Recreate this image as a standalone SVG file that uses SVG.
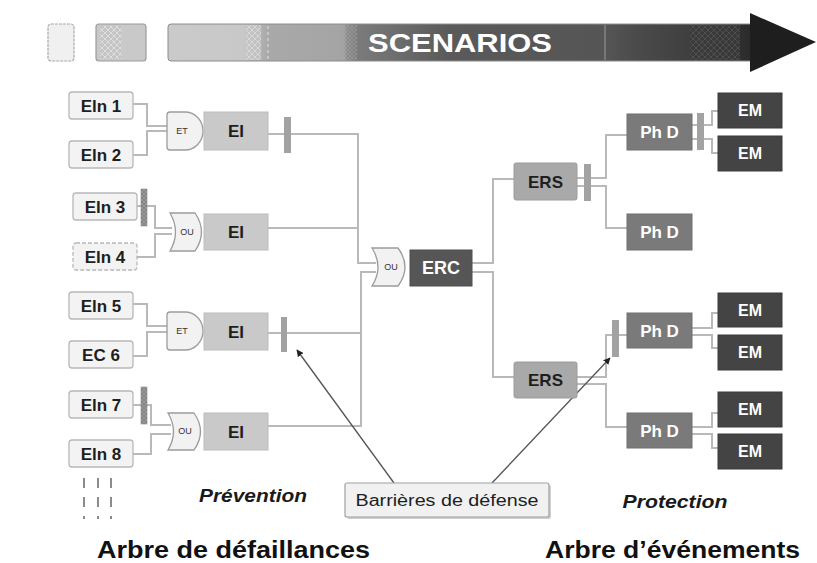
<svg xmlns="http://www.w3.org/2000/svg" width="817" height="563" viewBox="0 0 817 563">
  <defs>
    <style>
      .lb { font-family: "Liberation Sans", Arial, sans-serif; font-weight: bold; font-size: 17px; text-anchor: middle; fill: #1e1e1e; }
      .wt { fill: #ffffff; }
      .small { font-family: "Liberation Sans", Arial, sans-serif; font-size: 9px; text-anchor: middle; fill: #333; }
      .in { fill: #f3f3f3; stroke: #b8b8b8; stroke-width: 1.3; }
      .ei { fill: #c9c9c9; stroke: #bdbdbd; stroke-width: 1; }
      .gate { fill: #f2f2f2; stroke: #9c9c9c; stroke-width: 1.3; }
      .ers { fill: #a9a9a9; stroke: #9c9c9c; stroke-width: 1; }
      .phd { fill: #7a7a7a; stroke: #717171; stroke-width: 1; }
      .em { fill: #444444; stroke: #3a3a3a; stroke-width: 1; }
      .erc { fill: #565656; stroke: #4e4e4e; stroke-width: 1; }
      .bar { fill: #a2a2a2; }
      .bar-h { fill: url(#hatch); stroke: #8a8a8a; stroke-width: 0.6; }
      .wire { fill: none; stroke: #b9b9b9; stroke-width: 2; }
      .ptr { fill: none; stroke: #555; stroke-width: 1.3; marker-end: url(#tip); }
      .dash { stroke: #8c8c8c; stroke-width: 2; }
      .title { font-family: "Liberation Sans", Arial, sans-serif; font-weight: bold; font-size: 23px; fill: #111; }
      .side { font-family: "Liberation Sans", Arial, sans-serif; font-weight: bold; font-style: italic; font-size: 19px; text-anchor: middle; fill: #1a1a1a; }
    </style>
    <pattern id="hatch" width="4" height="4" patternUnits="userSpaceOnUse">
      <rect width="4" height="4" fill="#9a9a9a"/>
      <path d="M0,0 L4,4 M4,0 L0,4" stroke="#777" stroke-width="0.7"/>
    </pattern>
    <pattern id="xlight" width="6" height="6" patternUnits="userSpaceOnUse">
      <rect width="6" height="6" fill="#c4c4c4"/>
      <path d="M0,0 L6,6 M6,0 L0,6" stroke="#e6e6e6" stroke-width="0.8"/>
    </pattern>
    <pattern id="xdark" width="6" height="6" patternUnits="userSpaceOnUse">
      <rect width="6" height="6" fill="#3a3a3a"/>
      <path d="M0,0 L6,6 M6,0 L0,6" stroke="#5a5a5a" stroke-width="0.8"/>
    </pattern>
    <linearGradient id="band" gradientUnits="userSpaceOnUse" x1="168" y1="0" x2="752" y2="0">
      <stop offset="0" stop-color="#cacaca"/>
      <stop offset="0.13" stop-color="#c8c8c8"/>
      <stop offset="0.17" stop-color="#a9a9a9"/>
      <stop offset="0.30" stop-color="#a4a4a4"/>
      <stop offset="0.32" stop-color="#7c7c7c"/>
      <stop offset="0.48" stop-color="#5a5a5a"/>
      <stop offset="0.75" stop-color="#555555"/>
      <stop offset="0.80" stop-color="#4b4b4b"/>
      <stop offset="0.92" stop-color="#3c3c3c"/>
      <stop offset="1" stop-color="#2a2a2a"/>
    </linearGradient>
    <marker id="tip" viewBox="0 0 10 10" refX="9" refY="5" markerWidth="7" markerHeight="7" orient="auto-start-reverse" markerUnits="userSpaceOnUse">
      <path d="M0,0 L10,5 L0,10 Z" fill="#222"/>
    </marker>
  </defs>

  <rect width="817" height="563" fill="#ffffff"/>

  <!-- scenario band -->
  <g id="scenarios">
    <rect x="48" y="24" width="26" height="37" rx="3" fill="#f0f0f0" stroke="#a8a8a8" stroke-width="1.2" stroke-dasharray="3 1"/>
    <rect x="96" y="24" width="50" height="37" rx="3" fill="#c9c9c9" stroke="#9c9c9c" stroke-width="1.2"/>
    <rect x="100" y="26" width="22" height="33" fill="url(#xlight)"/>
    <rect x="168" y="24" width="585" height="37" rx="3" fill="url(#band)" stroke="#8c8c8c" stroke-width="1"/>
    <rect x="246" y="25" width="15" height="35" fill="url(#xlight)" opacity="0.8"/>
    <line x1="268" y1="26" x2="268" y2="59" stroke="#e2e2e2" stroke-width="1" stroke-dasharray="3 3"/>
    <rect x="346" y="25" width="11" height="35" fill="url(#hatch)" opacity="0.7"/>
    <line x1="605" y1="25" x2="605" y2="60" stroke="#9a9a9a" stroke-width="1"/>
    <rect x="690" y="25" width="50" height="35" fill="url(#xdark)" opacity="0.8"/>
    <polygon points="750,13 816,42 750,72" fill="#1e1e1e"/>
    <text x="460" y="52" class="lb wt" style="font-size:26px" textLength="184" lengthAdjust="spacingAndGlyphs">SCENARIOS</text>
  </g>

  <!-- connectors -->
  <g id="connectors">
    <path class="wire" d="M133,104 H147 V126 H167"/>
    <path class="wire" d="M133,155 H147 V131 H167"/>
    <path class="wire" d="M137,206 H155 V228 H172"/>
    <path class="wire" d="M137,257 H155 V234 H172"/>
    <path class="wire" d="M133,304 H147 V326 H167"/>
    <path class="wire" d="M133,356 H147 V332 H167"/>
    <path class="wire" d="M133,405 H151 V425 H171"/>
    <path class="wire" d="M133,454 H151 V434 H171"/>
    <path class="wire" d="M268,134 H358 V263 H376"/>
    <path class="wire" d="M268,228 H358"/>
    <path class="wire" d="M268,333 H361"/>
    <path class="wire" d="M268,426 H361 V272 H376"/>
    <path class="wire" d="M472,263 H493 V179 H514"/>
    <path class="wire" d="M472,272 H493 V377 H514"/>
    <path class="wire" d="M577,178 H606 V135 H627"/>
    <path class="wire" d="M577,186 H606 V228 H627"/>
    <path class="wire" d="M577,377 H606 V335 H627"/>
    <path class="wire" d="M577,384 H606 V427 H627"/>
    <path class="wire" d="M692,125 H712 V111 H718"/>
    <path class="wire" d="M692,139 H712 V153 H718"/>
    <path class="wire" d="M692,328 H712 V313 H718"/>
    <path class="wire" d="M692,335 H712 V348 H718"/>
    <path class="wire" d="M692,427 H712 V413 H718"/>
    <path class="wire" d="M692,434 H712 V448 H718"/>
    <line class="ptr" x1="394" y1="483" x2="297" y2="350"/>
    <line class="ptr" x1="492" y1="483" x2="610" y2="358"/>
  </g>

  <!-- defence barriers -->
  <g id="barriers">
    <rect class="bar-h" x="141" y="189" width="6" height="37"/>
    <rect class="bar-h" x="141" y="387" width="6" height="37"/>
    <rect class="bar" x="284" y="117" width="7" height="36"/>
    <rect class="bar" x="281" y="317" width="6" height="35"/>
    <rect class="bar" x="584" y="164" width="7" height="37"/>
    <rect class="bar" x="697" y="113" width="7" height="37"/>
    <rect class="bar" x="612" y="320" width="7" height="37"/>
  </g>

  <!-- initiating events -->
  <g id="eln1"><rect class="in" x="69" y="92" width="64" height="27" rx="3"/><text class="lb" x="101" y="111.5">Eln 1</text></g>
  <g id="eln2"><rect class="in" x="69" y="141" width="64" height="27" rx="3"/><text class="lb" x="101" y="160.5">Eln 2</text></g>
  <g id="eln3"><rect class="in" x="73" y="193" width="64" height="27" rx="3"/><text class="lb" x="105" y="212.5">Eln 3</text></g>
  <g id="eln4"><rect class="in" x="73" y="243" width="64" height="27" rx="3" stroke-dasharray="4 2"/><text class="lb" x="105" y="262.5">Eln 4</text></g>
  <g id="eln5"><rect class="in" x="69" y="292" width="64" height="27" rx="3"/><text class="lb" x="101" y="311.5">Eln 5</text></g>
  <g id="ec6"><rect class="in" x="69" y="341" width="64" height="27" rx="3"/><text class="lb" x="101" y="360.5">EC 6</text></g>
  <g id="eln7"><rect class="in" x="69" y="391" width="64" height="27" rx="3"/><text class="lb" x="101" y="410.5">Eln 7</text></g>
  <g id="eln8"><rect class="in" x="69" y="440" width="64" height="27" rx="3"/><text class="lb" x="101" y="459.5">Eln 8</text></g>

  <!-- continuation marks -->
  <g id="more">
    <path class="dash" d="M84,478 V488 M98,478 V488 M111,478 V488 M84,497 V507 M98,497 V507 M111,497 V507 M84,516 V519 M98,516 V519 M111,516 V519"/>
  </g>

  <!-- gates with intermediate events -->
  <g id="gate1">
    <path class="gate" d="M170,112 H185 A18,19 0 0 1 185,150 H170 A3,3 0 0 1 167,147 V115 A3,3 0 0 1 170,112 Z"/>
    <text class="small" x="182" y="134">ET</text>
    <rect class="ei" x="204" y="112" width="64" height="38"/>
    <text class="lb" x="236" y="137">EI</text>
  </g>
  <g id="gate2">
    <path class="gate" d="M170,213 H195 Q208,232 195,251 H170 Q181,232 170,213 Z"/>
    <text class="small" x="187" y="235">OU</text>
    <rect class="ei" x="204" y="214" width="64" height="36"/>
    <text class="lb" x="236" y="238">EI</text>
  </g>
  <g id="gate3">
    <path class="gate" d="M170,312 H185 A18,19 0 0 1 185,350 H170 A3,3 0 0 1 167,347 V315 A3,3 0 0 1 170,312 Z"/>
    <text class="small" x="182" y="334">ET</text>
    <rect class="ei" x="204" y="313" width="64" height="37"/>
    <text class="lb" x="236" y="337.5">EI</text>
  </g>
  <g id="gate4">
    <path class="gate" d="M168,413 H194 Q207,431.5 194,450 H168 Q179,431.5 168,413 Z"/>
    <text class="small" x="185" y="434">OU</text>
    <rect class="ei" x="204" y="413" width="64" height="37"/>
    <text class="lb" x="236" y="437.5">EI</text>
  </g>

  <!-- central event -->
  <g id="erc">
    <path class="gate" d="M372,248 H398 Q412,267 398,286 H372 Q384,267 372,248 Z"/>
    <text class="small" x="391" y="270">OU</text>
    <rect class="erc" x="410" y="250" width="62" height="36"/>
    <text class="lb wt" x="441" y="274" style="font-size:18px">ERC</text>
  </g>

  <!-- secondary events -->
  <g id="ers1"><rect class="ers" x="514" y="163" width="63" height="37" rx="2"/><text class="lb" x="545.5" y="187.5">ERS</text></g>
  <g id="ers2"><rect class="ers" x="514" y="362" width="63" height="36" rx="2"/><text class="lb" x="545.5" y="386">ERS</text></g>

  <!-- dangerous phenomena -->
  <g id="phd1"><rect class="phd" x="627" y="114" width="65" height="36"/><text class="lb wt" x="659.5" y="138">Ph D</text></g>
  <g id="phd2"><rect class="phd" x="627" y="214" width="65" height="36"/><text class="lb wt" x="659.5" y="238">Ph D</text></g>
  <g id="phd3"><rect class="phd" x="627" y="313" width="65" height="35"/><text class="lb wt" x="659.5" y="336.5">Ph D</text></g>
  <g id="phd4"><rect class="phd" x="627" y="413" width="65" height="35"/><text class="lb wt" x="659.5" y="436.5">Ph D</text></g>

  <!-- major events -->
  <g id="em1"><rect class="em" x="718" y="93" width="64" height="35"/><text class="lb wt" x="750" y="116" style="font-size:16px">EM</text></g>
  <g id="em2"><rect class="em" x="718" y="136" width="64" height="35"/><text class="lb wt" x="750" y="159" style="font-size:16px">EM</text></g>
  <g id="em3"><rect class="em" x="718" y="293" width="64" height="34"/><text class="lb wt" x="750" y="315.5" style="font-size:16px">EM</text></g>
  <g id="em4"><rect class="em" x="718" y="335" width="64" height="35"/><text class="lb wt" x="750" y="358" style="font-size:16px">EM</text></g>
  <g id="em5"><rect class="em" x="718" y="392" width="64" height="35"/><text class="lb wt" x="750" y="415" style="font-size:16px">EM</text></g>
  <g id="em6"><rect class="em" x="718" y="434" width="64" height="35"/><text class="lb wt" x="750" y="457" style="font-size:16px">EM</text></g>

  <!-- barrier label -->
  <g id="defense">
    <rect x="347" y="485" width="204" height="34" rx="2" fill="#d0d0d0"/>
    <rect x="345" y="483" width="204" height="34" rx="2" fill="#f1f1f1" stroke="#a0a0a0" stroke-width="1.2"/>
    <text x="447" y="506" style="font-family:'Liberation Sans',Arial,sans-serif;font-size:16px;fill:#1e1e1e" text-anchor="middle" textLength="183" lengthAdjust="spacingAndGlyphs">Barrières de défense</text>
  </g>

  <!-- captions -->
  <g id="captions">
    <text class="side" x="253" y="502" textLength="108" lengthAdjust="spacingAndGlyphs">Prévention</text>
    <text class="side" x="675" y="508" textLength="105" lengthAdjust="spacingAndGlyphs">Protection</text>
    <text class="title" x="97" y="558" textLength="273" lengthAdjust="spacingAndGlyphs">Arbre de défaillances</text>
    <text class="title" x="545" y="558" textLength="255" lengthAdjust="spacingAndGlyphs">Arbre d’événements</text>
  </g>
</svg>
